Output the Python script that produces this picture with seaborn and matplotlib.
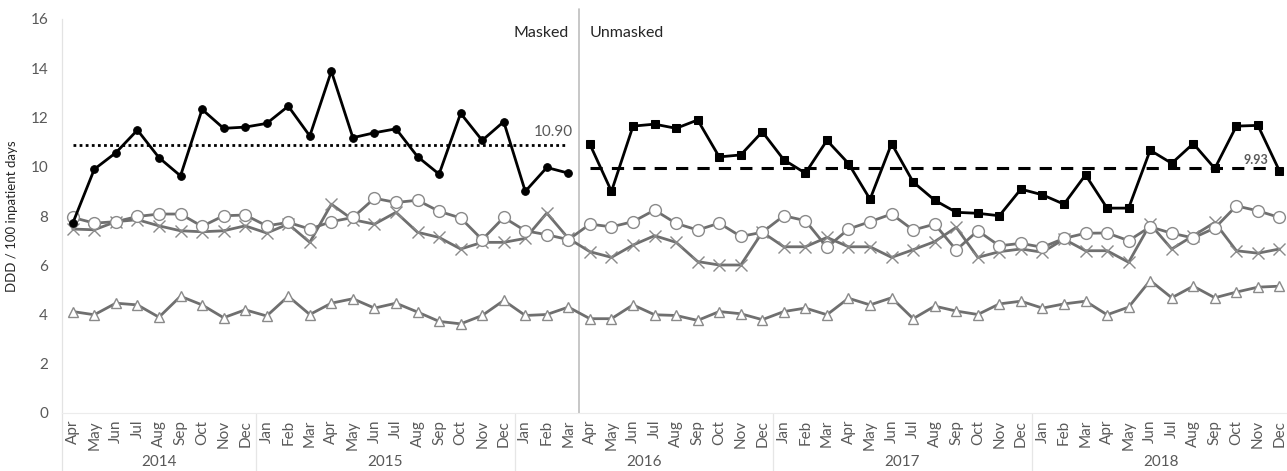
import numpy as np
import pandas as pd
import matplotlib
matplotlib.use("Agg")
import matplotlib.pyplot as plt
import seaborn as sns

# Monthly timeline: Apr 2014 – Dec 2018
months = (["Apr", "May", "Jun", "Jul", "Aug", "Sep", "Oct", "Nov", "Dec"]
          + ["Jan", "Feb", "Mar", "Apr", "May", "Jun", "Jul", "Aug", "Sep", "Oct", "Nov", "Dec"] * 4)
years = ["2014", "2015", "2016", "2017", "2018"]
year_spans = [(0, 8), (9, 20), (21, 32), (33, 44), (45, 56)]

# Total consumption, masked period (Apr 2014 – Mar 2016)
total_masked = [7.71, 9.90, 10.57, 11.49, 10.37, 9.63, 12.33, 11.56, 11.61, 11.76, 12.46, 11.25,
                13.88, 11.18, 11.38, 11.54, 10.41, 9.70, 12.17, 11.07, 11.83, 9.00, 9.97, 9.74]
# Total consumption, unmasked period (Apr 2016 – Dec 2018)
total_unmasked = [10.91, 9.00, 11.65, 11.73, 11.56, 11.90, 10.40, 10.48, 11.42,
                  10.28, 9.74, 11.07, 10.13, 8.68, 10.94, 9.38, 8.64, 8.15, 8.11, 8.01, 9.09,
                  8.86, 8.48, 9.67, 8.32, 8.32, 10.67, 10.14, 10.94, 9.93, 11.65, 11.68, 9.83]
mean_masked = 10.90
mean_unmasked = 9.93

# Component series over the whole period
series_circle = [7.94, 7.71, 7.77, 7.98, 8.08, 8.08, 7.58, 8.01, 8.04, 7.60, 7.74, 7.47,
                 7.77, 7.94, 8.72, 8.55, 8.64, 8.19, 7.92, 7.04, 7.94, 7.40, 7.24, 7.04,
                 7.67, 7.56, 7.77, 8.24, 7.70, 7.43, 7.71, 7.17, 7.34,
                 8.01, 7.81, 6.73, 7.47, 7.77, 8.08, 7.43, 7.67, 6.62, 7.40, 6.79, 6.89,
                 6.73, 7.09, 7.30, 7.31, 7.00, 7.56, 7.30, 7.11, 7.51, 8.41, 8.21, 7.94]
series_cross = [7.47, 7.44, 7.77, 7.85, 7.60, 7.40, 7.36, 7.40, 7.60, 7.31, 7.67, 6.93,
                8.48, 7.85, 7.67, 8.15, 7.34, 7.13, 6.66, 6.93, 6.93, 7.09, 8.12, 7.09,
                6.55, 6.32, 6.82, 7.20, 6.93, 6.15, 6.01, 6.01, 7.34,
                6.75, 6.75, 7.13, 6.75, 6.75, 6.32, 6.63, 6.96, 7.54, 6.32, 6.55, 6.66,
                6.53, 7.06, 6.59, 6.59, 6.12, 7.67, 6.66, 7.20, 7.74, 6.59, 6.49, 6.66]
series_triangle = [4.12, 3.99, 4.46, 4.39, 3.89, 4.74, 4.39, 3.87, 4.19, 3.94, 4.74, 4.00,
                   4.46, 4.64, 4.26, 4.46, 4.10, 3.72, 3.62, 3.96, 4.57, 3.96, 4.00, 4.30,
                   3.83, 3.83, 4.39, 3.99, 3.96, 3.76, 4.12, 4.03, 3.79,
                   4.12, 4.26, 3.99, 4.66, 4.39, 4.68, 3.83, 4.34, 4.14, 4.00, 4.43, 4.54,
                   4.26, 4.43, 4.54, 3.99, 4.30, 5.38, 4.68, 5.15, 4.68, 4.91, 5.11, 5.15]

n = len(months)
idx = np.arange(n)
n_masked = len(total_masked)

df_masked = pd.DataFrame({"t": idx[:n_masked], "ddd": total_masked})
df_unmasked = pd.DataFrame({"t": idx[n_masked:], "ddd": total_unmasked})
df_comp = pd.DataFrame({"t": idx, "circle": series_circle,
                        "cross": series_cross, "triangle": series_triangle})

sns.set_theme(style="white")
plt.rcParams["font.family"] = ["Lato", "DejaVu Sans"]

TXT = "#595959"
GRAY = "#6f6f6f"
MARK = "#8a8a8a"

fig = plt.figure(figsize=(12.87, 4.71), dpi=100)
ax = fig.add_axes([62 / 1287, 58 / 471, 1 - 62 / 1287, 394 / 471])

common = dict(ax=ax, x="t", linewidth=2.0, legend=False, zorder=3)
sns.lineplot(data=df_comp, y="triangle", color=GRAY, marker="^", markersize=7.5,
             markerfacecolor="white", markeredgecolor=MARK, markeredgewidth=1.0, **common)
sns.lineplot(data=df_comp, y="cross", color=GRAY, marker="x", markersize=8,
             markeredgecolor=MARK, markeredgewidth=1.0, **common)
sns.lineplot(data=df_comp, y="circle", color=GRAY, marker="o", markersize=8.5,
             markerfacecolor="white", markeredgecolor=MARK, markeredgewidth=1.0, **common)

sns.lineplot(data=df_masked, ax=ax, x="t", y="ddd", color="black", linewidth=2.0,
             marker="o", markersize=5.5, markeredgecolor="black", legend=False, zorder=5)
sns.lineplot(data=df_unmasked, ax=ax, x="t", y="ddd", color="black", linewidth=2.0,
             marker="s", markersize=5.5, markeredgecolor="black", legend=False, zorder=5)

# Period means
ax.hlines(mean_masked, 0, n_masked - 1, colors="black", linestyles=(0, (1, 1.2)),
          linewidth=2.0, zorder=4)
ax.hlines(mean_unmasked, n_masked, n - 1, colors="black", linestyles=(0, (4, 3)),
          linewidth=2.2, zorder=4)
ax.text(n_masked - 0.8, mean_masked + 0.22, f"{mean_masked:.2f}", ha="right", va="bottom",
        fontsize=11, color=TXT)
ax.text(n - 1.5, mean_unmasked + 0.12, f"{mean_unmasked:.2f}", ha="right", va="bottom",
        fontsize=9, color=TXT, fontweight="bold")

# Masked / unmasked boundary
split = n_masked - 0.5
ax.axvline(split, ymin=0, ymax=1.025, color="#bdbdbd", linewidth=1.2, clip_on=False, zorder=2)
ax.text(split - 0.5, 15.45, "Masked", ha="right", va="center", fontsize=11.5, color="#262626")
ax.text(split + 0.5, 15.45, "Unmasked", ha="left", va="center", fontsize=11.5, color="#262626")

ax.set_xlim(-0.5, 56.35)
ax.set_ylim(0, 16)
ax.set_yticks(np.arange(0, 17, 2))
ax.set_xticks(idx)
ax.set_xticklabels(months, rotation=90, fontsize=11, color=TXT)
ax.tick_params(axis="y", labelsize=11, colors=TXT, length=0, pad=10)
ax.tick_params(axis="x", length=0, pad=5)
ax.set_xlabel("")
ax.set_ylabel("DDD / 100 inpatient days", fontsize=9.5, color="#262626")
ax.yaxis.set_label_coords(-0.036, 0.5)

for side in ["top", "right"]:
    ax.spines[side].set_visible(False)
ax.spines["left"].set_color("#e3e3e3")
ax.spines["bottom"].set_color("#ececec")
ax.spines["left"].set_linewidth(0.9)
ax.spines["bottom"].set_linewidth(0.8)

# Extend axis line through the category area and separate years
ax.plot([-0.5, -0.5], [0, -0.15], transform=ax.get_xaxis_transform(), color="#e3e3e3",
        linewidth=0.9, clip_on=False)
for (a, b), yr in zip(year_spans, years):
    ax.text((a + b) / 2, -0.124, yr, transform=ax.get_xaxis_transform(), ha="center",
            va="center", fontsize=11, color=TXT)
    if b < n - 1:
        ax.plot([b + 0.5, b + 0.5], [0, -0.15], transform=ax.get_xaxis_transform(),
                color="#e6e6e6", linewidth=0.9, clip_on=False)

fig.savefig("out.png", dpi=100)
